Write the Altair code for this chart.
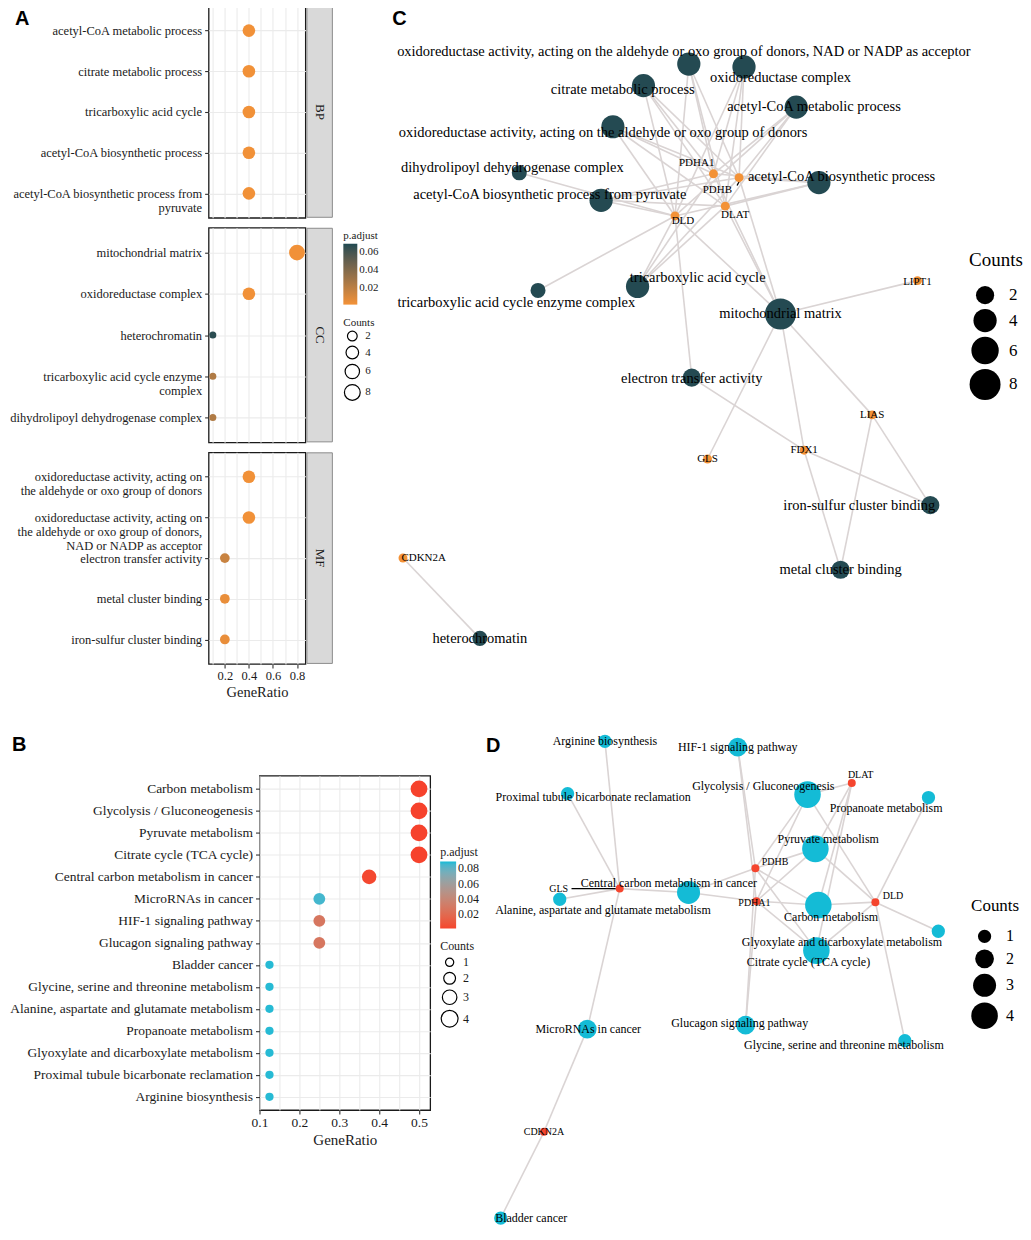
import altair as alt
import pandas as pd

SERIF = "Liberation Serif"
SANS = "Liberation Sans"
INK = "#1A1A1A"
GRID = "#EBEBEB"
A_LOW, A_HIGH = "#F39237", "#1F4A52"
B_LOW, B_HIGH = "#F5452E", "#14BBD6"
C_TERM, C_GENE = "#244A52", "#F39237"
D_TERM, D_GENE = "#14BBD6", "#F5452E"
EDGE = "#DAD4D4"

panel_letters = ["A", "B", "C", "D"]
ontologies = ["BP", "CC", "MF"]

# ---------------- Panel A : GO dot plot ----------------
bp_terms = ["acetyl-CoA metabolic process", "citrate metabolic process",
            "tricarboxylic acid cycle", "acetyl-CoA biosynthetic process",
            "acetyl-CoA biosynthetic process from\npyruvate"]
bp_ratio = [0.4, 0.4, 0.4, 0.4, 0.4]
bp_count = [4, 4, 4, 4, 4]
bp_padj = [0.0024, 0.0024, 0.0024, 0.0024, 0.0024]

cc_terms = ["mitochondrial matrix", "oxidoreductase complex", "heterochromatin",
            "tricarboxylic acid cycle enzyme\ncomplex", "dihydrolipoyl dehydrogenase complex"]
cc_ratio = [0.8, 0.4, 0.1, 0.1, 0.1]
cc_count = [8, 4, 1, 1, 1]
cc_padj = [0.0024, 0.0024, 0.066, 0.024, 0.024]

mf_terms = ["oxidoreductase activity, acting on\nthe aldehyde or oxo group of donors",
            "oxidoreductase activity, acting on\nthe aldehyde or oxo group of donors,\nNAD or NADP as acceptor",
            "electron transfer activity", "metal cluster binding", "iron-sulfur cluster binding"]
mf_ratio = [0.4, 0.4, 0.2, 0.2, 0.2]
mf_count = [4, 4, 2, 2, 2]
mf_padj = [0.0024, 0.0024, 0.016, 0.005, 0.005]

a_ticks = [0.1, 0.2, 0.3, 0.4, 0.5, 0.6, 0.7, 0.8]
a_padj_ticks = [0.02, 0.04, 0.06]
a_count_ticks = [2, 4, 6, 8]

# ---------------- Panel B : KEGG dot plot ----------------
kegg_terms = ["Carbon metabolism", "Glycolysis / Gluconeogenesis", "Pyruvate metabolism",
              "Citrate cycle (TCA cycle)", "Central carbon metabolism in cancer",
              "MicroRNAs in cancer", "HIF-1 signaling pathway", "Glucagon signaling pathway",
              "Bladder cancer", "Glycine, serine and threonine metabolism",
              "Alanine, aspartate and glutamate metabolism", "Propanoate metabolism",
              "Glyoxylate and dicarboxylate metabolism",
              "Proximal tubule bicarbonate reclamation", "Arginine biosynthesis"]
kegg_ratio = [0.5, 0.5, 0.5, 0.5, 0.375, 0.25, 0.25, 0.25,
              0.125, 0.125, 0.125, 0.125, 0.125, 0.125, 0.125]
kegg_count = [4, 4, 4, 4, 3, 2, 2, 2, 1, 1, 1, 1, 1, 1, 1]
kegg_padj = [0.0006, 0.0006, 0.0006, 0.0006, 0.003, 0.085, 0.028, 0.028,
             0.088, 0.088, 0.088, 0.088, 0.088, 0.088, 0.088]
b_ticks = [0.1, 0.15, 0.2, 0.25, 0.3, 0.35, 0.4, 0.45, 0.5]
b_padj_ticks = [0.02, 0.04, 0.06, 0.08]
b_count_ticks = [1, 2, 3, 4]

# ---------------- Panel C : GO gene-concept network ----------------
c_terms = ["oxidoreductase activity, acting on the aldehyde or oxo group of donors, NAD or NADP as acceptor",
           "oxidoreductase complex", "citrate metabolic process", "acetyl-CoA metabolic process",
           "oxidoreductase activity, acting on the aldehyde or oxo group of donors",
           "dihydrolipoyl dehydrogenase complex", "acetyl-CoA biosynthetic process",
           "acetyl-CoA biosynthetic process from pyruvate", "tricarboxylic acid cycle",
           "tricarboxylic acid cycle enzyme complex", "mitochondrial matrix",
           "electron transfer activity", "iron-sulfur cluster binding", "metal cluster binding",
           "heterochromatin"]
c_term_x = [698, 754, 652, 807, 621, 526, 830, 609, 646, 545, 791, 701, 943, 852, 486]
c_term_y = [62, 65, 84, 106, 126, 173, 183, 201, 289, 293, 317, 382, 512, 578, 648]
c_term_count = [4, 4, 4, 4, 4, 1, 4, 4, 4, 1, 8, 2, 2, 2, 1]
c_label_x = [693, 791, 631, 825, 611, 519, 853, 557, 707, 523, 791, 701, 871, 852, 486]
c_label_y = [50, 76, 88, 106, 132, 168, 177, 196, 280, 306, 317, 383, 513, 578, 649]
PDH4 = ["PDHA1", "PDHB", "DLAT", "DLD"]
c_term_genes = [PDH4, PDH4, PDH4, PDH4, PDH4, ["DLD"], PDH4, PDH4, PDH4, ["DLD"],
                PDH4 + ["LIPT1", "LIAS", "FDX1", "GLS"], ["DLD", "FDX1"],
                ["LIAS", "FDX1"], ["LIAS", "FDX1"], ["CDKN2A"]]
c_genes = ["PDHA1", "PDHB", "DLAT", "DLD", "LIPT1", "LIAS", "FDX1", "GLS", "CDKN2A"]
c_gene_x = [723, 749, 735, 684, 930, 884, 815, 717, 408]
c_gene_y = [174, 178, 207, 217, 283, 420, 456, 465, 566]
c_gene_lx = [706, 727, 745, 692, 930, 884, 815, 717, 429]
c_gene_ly = [163, 191, 216, 222, 284, 420, 456, 465, 566]
c_seg = {"x": [747], "y": [186], "x2": [750], "y2": [180]}
c_count_ticks = [2, 4, 6, 8]

# ---------------- Panel D : KEGG gene-concept network ----------------
d_terms = ["Arginine biosynthesis", "HIF-1 signaling pathway", "Glycolysis / Gluconeogenesis",
           "Propanoate metabolism", "Proximal tubule bicarbonate reclamation", "Pyruvate metabolism",
           "Central carbon metabolism in cancer", "Alanine, aspartate and glutamate metabolism",
           "Carbon metabolism", "Glyoxylate and dicarboxylate metabolism", "Citrate cycle (TCA cycle)",
           "Glucagon signaling pathway", "Glycine, serine and threonine metabolism",
           "MicroRNAs in cancer", "Bladder cancer"]
d_term_x = [605, 740, 811, 934, 567, 819, 690, 559, 822, 944, 820, 748, 910, 587, 499]
d_term_y = [740, 746, 795, 798, 794, 851, 896, 903, 909, 936, 956, 1033, 1049, 1037, 1232]
d_term_count = [1, 2, 4, 1, 1, 4, 3, 1, 4, 1, 4, 2, 1, 2, 1]
d_label_x = [605, 740, 766, 891, 593, 832, 670, 603, 835, 846, 812, 742, 848, 588, 530]
d_label_y = [740, 746, 786, 809, 797, 841, 886, 914, 921, 947, 968, 1031, 1053, 1037, 1232]
d_term_genes = [["GLS"], ["PDHA1", "PDHB"], PDH4, ["DLD"], ["GLS"], PDH4,
                ["PDHA1", "PDHB", "GLS"], ["GLS"], PDH4, ["DLD"], PDH4,
                ["PDHA1", "PDHB"], ["DLD"], ["GLS", "CDKN2A"], ["CDKN2A"]]
d_genes = ["DLAT", "PDHB", "GLS", "PDHA1", "DLD", "CDKN2A"]
d_gene_x = [856, 758, 620, 759, 880, 543]
d_gene_y = [783, 871, 892, 905, 906, 1143]
d_gene_lx = [865, 778, 558, 757, 898, 543]
d_gene_ly = [775, 865, 892, 907, 900, 1143]
d_seg = {"x": [571], "y": [892], "x2": [616], "y2": [892]}
d_count_ticks = [1, 2, 3, 4]


# ---------------- helpers ----------------
def letter_layer(letter, dx, dy):
    return alt.Chart(pd.DataFrame({"letter": [letter]})).mark_text(
        font=SANS, fontWeight="bold", fontSize=20, align="left", baseline="top", color="black"
    ).encode(x=alt.value(dx), y=alt.value(dy), text="letter:N")


def spacer(w=1, h=1, letter=None, ldx=0, ldy=0):
    base = alt.Chart(pd.DataFrame({"s": [0]})).mark_rect(opacity=0).encode(
        x=alt.value(0), x2=alt.value(w), y=alt.value(0), y2=alt.value(h))
    if letter is None:
        return base.properties(width=w, height=h)
    return alt.layer(base, letter_layer(letter, ldx, ldy)).properties(width=w, height=h)


def dot_y_axis(font_size, line_height):
    return alt.Axis(title=None, labelFont=SERIF, labelFontSize=font_size, labelColor=INK,
                    labelLimit=600, labelOverlap=False, labelExpr="split(datum.label, '\\n')",
                    labelLineHeight=line_height, labelPadding=3, tickColor="#333333",
                    tickSize=4, tickWidth=1.1, domain=False, grid=True, gridColor=GRID,
                    gridWidth=1.1)


RES = dict(x="independent", y="independent", color="independent", size="independent")

A_W = 97
A_H = [212, 215, 212]
A_XDOM = [0.065, 0.87]
A_PDOM = [0.0016, 0.0686]


def a_panel(idx, terms, ratio, count, padj):
    h = A_H[idx]
    df = pd.DataFrame({"Description": terms, "GeneRatio": ratio, "Count": count, "padj": padj})
    if idx == 2:
        xaxis = alt.Axis(values=a_ticks, title="GeneRatio", titleFont=SERIF, titleFontSize=14.5,
                         titleFontWeight="normal", titleColor=INK, titlePadding=3,
                         labelFont=SERIF, labelFontSize=12.5, labelColor=INK, labelPadding=2,
                         labelFlush=False, labelOverlap=False,
                         labelExpr="round(datum.value*10) % 2 == 0 ? format(datum.value, '.1f') : ''",
                         tickOpacity={"condition": {"test": "round(datum.value*10) % 2 == 1", "value": 0},
                                      "value": 1},
                         tickColor="#333333", tickSize=4, tickWidth=1.1, domain=False,
                         grid=True, gridColor=GRID, gridWidth=1.1)
    else:
        xaxis = alt.Axis(values=a_ticks, labels=False, ticks=False, domain=False, title=None,
                         grid=True, gridColor=GRID, gridWidth=1.1)
    if idx == 1:
        cleg = alt.Legend(title="p.adjust", orient="none", legendX=135, legendY=2,
                          direction="vertical", gradientLength=61, gradientThickness=14,
                          values=a_padj_ticks, format=".2f", titleFontSize=11, labelFontSize=11,
                          titleFontWeight="normal", gradientStrokeWidth=0, titlePadding=3,
                          labelColor=INK, titleColor=INK, labelOverlap=False)
        sleg = alt.Legend(title="Counts", orient="none", legendX=135, legendY=89,
                          values=a_count_ticks, format="d", symbolType="circle",
                          symbolFillColor="transparent",
                          symbolStrokeColor="black", symbolStrokeWidth=1.2, symbolOpacity=1,
                          titleFontSize=11, labelFontSize=11, titleFontWeight="normal",
                          rowPadding=0, labelColor=INK, titleColor=INK, titlePadding=3)
    else:
        cleg = None
        sleg = None
    pts = alt.Chart(df).mark_circle(opacity=1).encode(
        x=alt.X("GeneRatio:Q", scale=alt.Scale(domain=A_XDOM, nice=False, zero=False), axis=xaxis),
        y=alt.Y("Description:N", sort=terms, scale=alt.Scale(type="point", padding=0.6),
                axis=dot_y_axis(12.5, 14)),
        color=alt.Color("padj:Q", scale=alt.Scale(domain=A_PDOM, range=[A_LOW, A_HIGH],
                                                   interpolate="lab"), legend=cleg),
        size=alt.Size("Count:Q", scale=alt.Scale(type="sqrt", domain=[1, 8], range=[50, 250],
                                                  zero=False), legend=sleg),
    )
    strip_df = pd.DataFrame({"ont": [ontologies[idx]]})
    rect = alt.Chart(strip_df).mark_rect(fill="#D9D9D9", stroke="#8C8C8C", strokeWidth=1).encode(
        x=alt.value(A_W + 1.5), x2=alt.value(A_W + 27), y=alt.value(0.5), y2=alt.value(h - 0.5))
    txt = alt.Chart(strip_df).mark_text(angle=90, font=SERIF, fontSize=13, color=INK).encode(
        x=alt.value(A_W + 14.5), y=alt.value(h / 2), text="ont:N")
    layers = [pts, rect, txt]
    if idx == 0:
        layers.append(letter_layer(panel_letters[0], -194, 3))
    return alt.layer(*layers).properties(
        width=A_W, height=h, view=alt.ViewBackground(stroke=INK, strokeWidth=1.3))


a_chart = alt.vconcat(
    a_panel(0, bp_terms, bp_ratio, bp_count, bp_padj),
    a_panel(1, cc_terms, cc_ratio, cc_count, cc_padj),
    a_panel(2, mf_terms, mf_ratio, mf_count, mf_padj),
    spacing=8,
).resolve_scale(**RES)

# ---------------- Panel B ----------------
B_W, B_H = 171, 335
b_df = pd.DataFrame({"Description": kegg_terms, "GeneRatio": kegg_ratio,
                     "Count": kegg_count, "padj": kegg_padj})
b_xaxis = alt.Axis(values=b_ticks, title="GeneRatio", titleFont=SERIF, titleFontSize=15,
                   titleFontWeight="normal", titleColor=INK, titlePadding=3,
                   labelFont=SERIF, labelFontSize=13.5, labelColor=INK, labelPadding=2,
                   labelFlush=False, labelOverlap=False,
                   labelExpr="round(datum.value*100) % 10 == 0 ? format(datum.value, '.1f') : ''",
                   tickOpacity={"condition": {"test": "round(datum.value*100) % 10 != 0", "value": 0},
                                "value": 1},
                   tickColor="#333333", tickSize=4, tickWidth=1.1, domain=False,
                   grid=True, gridColor=GRID, gridWidth=1.1)
b_pts = alt.Chart(b_df).mark_circle(opacity=1).encode(
    x=alt.X("GeneRatio:Q", scale=alt.Scale(domain=[0.1, 0.528], nice=False, zero=False), axis=b_xaxis),
    y=alt.Y("Description:N", sort=kegg_terms, scale=alt.Scale(type="point", padding=0.6),
            axis=dot_y_axis(13.5, 15)),
    color=alt.Color("padj:Q", scale=alt.Scale(domain=[0.0018, 0.089], range=[B_LOW, B_HIGH],
                                               interpolate="lab"),
                    legend=alt.Legend(title="p.adjust", orient="none", legendX=181, legendY=71,
                                      direction="vertical", gradientLength=67, gradientThickness=16,
                                      values=b_padj_ticks, format=".2f", titleFontSize=12,
                                      labelFontSize=12, titleFontWeight="normal",
                                      gradientStrokeWidth=0, titlePadding=3, labelColor=INK,
                                      titleColor=INK, labelOverlap=False)),
    size=alt.Size("Count:Q", scale=alt.Scale(domain=[1, 4], range=[68, 284], zero=False),
                  legend=alt.Legend(title="Counts", orient="none", legendX=181, legendY=166,
                                    values=b_count_ticks, format="d", symbolType="circle",
                                    symbolFillColor="transparent", symbolStrokeColor="black",
                                    symbolStrokeWidth=1.2, symbolOpacity=1, titleFontSize=12,
                                    labelFontSize=12, titleFontWeight="normal", rowPadding=0,
                                    labelColor=INK, titleColor=INK, titlePadding=3)),
)
b_chart = b_pts.properties(width=B_W, height=B_H,
                           view=alt.ViewBackground(stroke=INK, strokeWidth=1.3))


# ---------------- network helper ----------------
def network(terms, tx, ty, tcount, lx, ly, term_genes, genes, gx, gy, glx, gly, seg,
            xdom, ydom, w, h, term_color, gene_color, gene_size, size_dom, size_range,
            term_font, gene_font, legend, letter, ldx, ldy):
    xs = alt.Scale(domain=xdom, nice=False, zero=False)
    ys = alt.Scale(domain=ydom, nice=False, zero=False, reverse=True)
    gpos = {g: (a, b) for g, a, b in zip(genes, gx, gy)}
    rows = []
    for i, gl in enumerate(term_genes):
        for g in gl:
            rows.append({"x": tx[i], "y": ty[i], "x2": gpos[g][0], "y2": gpos[g][1]})
    edges = pd.DataFrame(rows)
    tdf = pd.DataFrame({"name": terms, "x": tx, "y": ty, "count": tcount, "lx": lx, "ly": ly,
                        "kind": ["term"] * len(terms)})
    gdf = pd.DataFrame({"name": genes, "x": gx, "y": gy, "lx": glx, "ly": gly})
    sdf = pd.DataFrame(seg)
    X = lambda f: alt.X(f, scale=xs, axis=None)
    Y = lambda f: alt.Y(f, scale=ys, axis=None)
    e = alt.Chart(edges).mark_rule(color=EDGE, strokeWidth=1.6).encode(
        x=X("x:Q"), y=Y("y:Q"), x2="x2:Q", y2="y2:Q")
    s = alt.Chart(sdf).mark_rule(color="black", strokeWidth=1.3).encode(
        x=X("x:Q"), y=Y("y:Q"), x2="x2:Q", y2="y2:Q")
    tn = alt.Chart(tdf).mark_circle(opacity=1).encode(
        x=X("x:Q"), y=Y("y:Q"),
        color=alt.Color("kind:N", scale=alt.Scale(domain=["term"], range=[term_color]), legend=None),
        size=alt.Size("count:Q", scale=alt.Scale(domain=size_dom, range=size_range, zero=False),
                      legend=legend))
    gn = alt.Chart(gdf).mark_circle(color=gene_color, opacity=1, size=gene_size).encode(
        x=X("x:Q"), y=Y("y:Q"))
    tl = alt.Chart(tdf).mark_text(font=SERIF, fontSize=term_font, color="black").encode(
        x=X("lx:Q"), y=Y("ly:Q"), text="name:N")
    gl_ = alt.Chart(gdf).mark_text(font=SERIF, fontSize=gene_font, color="black").encode(
        x=X("lx:Q"), y=Y("ly:Q"), text="name:N")
    return alt.layer(e, s, tn, gn, tl, gl_, letter_layer(letter, ldx, ldy)).properties(width=w, height=h)


C_XDOM, C_W = [390, 1030], 632
C_YDOM, C_H = [3, 670], 655
c_legend = alt.Legend(title="Counts", orient="none", legendX=585, legendY=245, values=c_count_ticks,
                      format="d", symbolType="circle", symbolFillColor="black",
                      symbolStrokeColor="black", symbolStrokeWidth=0, symbolOpacity=1,
                      titleFontSize=19, labelFontSize=17, titleFontWeight="normal", rowPadding=4,
                      labelOffset=8, titlePadding=16, labelColor="black", titleColor="black")
c_chart = network(c_terms, c_term_x, c_term_y, c_term_count, c_label_x, c_label_y, c_term_genes,
                  c_genes, c_gene_x, c_gene_y, c_gene_lx, c_gene_ly, c_seg,
                  C_XDOM, C_YDOM, C_W, C_H, C_TERM, C_GENE, 80, [1, 8], [227, 962],
                  14.5, 11, c_legend, panel_letters[2], 7, 3)

D_XDOM, D_W = [478, 1022], 536
D_YDOM, D_H = [725, 1240], 500
d_legend = alt.Legend(title="Counts", orient="none", legendX=492, legendY=172, values=d_count_ticks,
                      format="d", symbolType="circle", symbolFillColor="black",
                      symbolStrokeColor="black", symbolStrokeWidth=0, symbolOpacity=1,
                      titleFontSize=17, labelFontSize=16, titleFontWeight="normal", rowPadding=5,
                      labelOffset=8, titlePadding=13, labelColor="black", titleColor="black")
d_chart = network(d_terms, d_term_x, d_term_y, d_term_count, d_label_x, d_label_y, d_term_genes,
                  d_genes, d_gene_x, d_gene_y, d_gene_lx, d_gene_ly, d_seg,
                  D_XDOM, D_YDOM, D_W, D_H, D_TERM, D_GENE, 64, [1, 4], [177, 707],
                  12, 10, d_legend, panel_letters[3], 6, 9)

# ---------------- layout ----------------
top = alt.hconcat(
    spacer(),
    alt.hconcat(a_chart, c_chart, spacing=5).resolve_scale(**RES),
    spacing=0,
).resolve_scale(**RES)

b_col = alt.vconcat(spacer(1, 40, panel_letters[1], -248, 8), b_chart, spacing=8).resolve_scale(**RES)
bottom = alt.hconcat(
    spacer(),
    alt.hconcat(b_col, d_chart, spacing=0).resolve_scale(**RES),
    spacing=0,
).resolve_scale(**RES)

chart = alt.vconcat(top, bottom, spacing=27).resolve_scale(**RES).properties(
    padding={"left": 0, "top": -4, "right": 0, "bottom": 0}, background="white"
).configure(font=SERIF).configure_view(strokeWidth=0)

chart.save("out.html", embed_options={"renderer": "svg", "actions": False})
